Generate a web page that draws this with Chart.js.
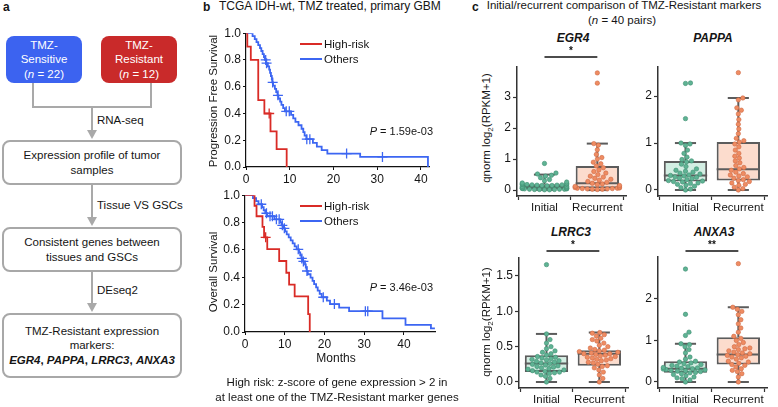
<!DOCTYPE html>
<html>
<head>
<meta charset="utf-8">
<title>TMZ-resistant markers</title>
<script src="https://cdn.jsdelivr.net/npm/chart.js@4.4.1/dist/chart.umd.min.js"></script>
<style>
  body { margin:0; width:778px; height:407px; position:relative; overflow:hidden; background:#fff;
         font-family:"Liberation Sans", Arial, Helvetica, sans-serif; color:#151515; font-size:11.5px; }
  .t { position:absolute; white-space:nowrap; line-height:14px; }
  .c { transform:translateX(-50%); }
  .r { transform:translateX(-100%); }
  .rot { position:absolute; white-space:nowrap; line-height:14px; transform:translate(-50%,-50%) rotate(-90deg); }
  .lbl { position:absolute; font-weight:bold; font-size:12px; line-height:14px; }
  canvas { position:absolute; }
  .box { position:absolute; box-sizing:border-box; border-radius:8px; display:flex; justify-content:center;
         align-items:center; text-align:center; line-height:14.5px; }
  .grey { border:2px solid #a8a8a8; background:#fff; }
  .gene { position:absolute; white-space:nowrap; line-height:14px; font-weight:bold; font-style:italic; font-size:12px; transform:translateX(-50%); }
  .leg { position:absolute; height:2px; width:22px; }
</style>
</head>
<body>

<!-- panel a : workflow -->
<div class="lbl" style="left:3px;top:0px">a</div>
<svg style="position:absolute;left:0;top:0" width="200" height="407">
  <g stroke="#a9a9a9" stroke-width="2" fill="none">
    <polyline points="33,83 33,107 151,107 151,83"/>
    <line x1="92" y1="107" x2="92" y2="131"/>
    <line x1="92" y1="185" x2="92" y2="218"/>
    <line x1="92" y1="272" x2="92" y2="304"/>
  </g>
  <g fill="#a9a9a9">
    <polygon points="87,130 97,130 92,139"/>
    <polygon points="87,217 97,217 92,226"/>
    <polygon points="87,303 97,303 92,312"/>
  </g>
</svg>
<div class="box" style="left:6px;top:36px;width:76px;height:47px;background:#3c63f0;color:#fff"><div>TMZ-<br>Sensitive<br>(<i>n</i> = 22)</div></div>
<div class="box" style="left:101px;top:36px;width:76px;height:47px;background:#c92a2a;color:#fff"><div>TMZ-<br>Resistant<br>(<i>n</i> = 12)</div></div>
<div class="t" style="left:97px;top:113px">RNA-seq</div>
<div class="box grey" style="left:2px;top:140px;width:180px;height:45px"><div>Expression profile of tumor<br>samples</div></div>
<div class="t" style="left:97px;top:198px">Tissue VS GSCs</div>
<div class="box grey" style="left:2px;top:227px;width:180px;height:45px"><div>Consistent genes between<br>tissues and GSCs</div></div>
<div class="t" style="left:97px;top:283px">DEseq2</div>
<div class="box grey" style="left:2px;top:313px;width:180px;height:65px"><div>TMZ-Resistant expression<br>markers:<br><b><i>EGR4</i>, <i>PAPPA</i>, <i>LRRC3</i>, <i>ANXA3</i></b></div></div>

<!-- panel b : survival -->
<div class="lbl" style="left:203px;top:0px">b</div>
<div class="t" style="left:219px;top:-1px;font-size:12px">TCGA IDH-wt, TMZ treated, primary GBM</div>
<canvas id="pfs" width="230" height="163" style="left:206px;top:24px"></canvas>
<canvas id="os" width="237" height="166" style="left:205px;top:186px"></canvas>
<div class="rot" style="left:213px;top:101px">Progression Free Survival</div>
<div class="rot" style="left:213px;top:272px">Overall Survival</div>
<div class="leg" style="left:300px;top:43px;background:#d92b26"></div>
<div class="t" style="left:324px;top:37px">High-risk</div>
<div class="leg" style="left:300px;top:58px;background:#3c66f2"></div>
<div class="t" style="left:324px;top:52px">Others</div>
<div class="leg" style="left:300px;top:205px;background:#d92b26"></div>
<div class="t" style="left:324px;top:199px">High-risk</div>
<div class="leg" style="left:300px;top:220px;background:#3c66f2"></div>
<div class="t" style="left:324px;top:214px">Others</div>
<div class="t r" style="left:433px;top:124px;font-size:11px"><i>P</i> = 1.59e-03</div>
<div class="t r" style="left:433px;top:280px;font-size:11px"><i>P</i> = 3.46e-03</div>
<div class="t c" style="left:336px;top:351px;font-size:12px">Months</div>
<div class="t c" style="left:337px;top:375px">High risk: z-score of gene expression &gt; 2 in</div>
<div class="t c" style="left:337px;top:390px">at least one of the TMZ-Resistant marker genes</div>

<!-- panel c : paired comparison -->
<div class="lbl" style="left:472px;top:0px">c</div>
<div class="t c" style="left:624px;top:-2px">Initial/recurrent comparison of TMZ-Resistant markers</div>
<div class="t c" style="left:622px;top:13px">(<i>n</i> = 40 pairs)</div>
<div class="gene" style="left:573px;top:31px">EGR4</div>
<div class="gene" style="left:713px;top:31px">PAPPA</div>
<div class="gene" style="left:571px;top:225px">LRRC3</div>
<div class="gene" style="left:714px;top:225px">ANXA3</div>
<div class="rot" style="left:486px;top:128px">qnorm log<sub style="font-size:8px;line-height:0">2</sub>(RPKM+1)</div>
<div class="rot" style="left:486px;top:322px">qnorm log<sub style="font-size:8px;line-height:0">2</sub>(RPKM+1)</div>
<canvas id="egr4" width="148" height="177" style="left:483px;top:37px"></canvas>
<canvas id="pappa" width="148" height="177" style="left:624px;top:37px"></canvas>
<canvas id="lrrc3" width="148" height="178" style="left:485px;top:228px"></canvas>
<canvas id="anxa3" width="148" height="179" style="left:624px;top:227px"></canvas>

<script>
// ---------- data: survival curves, [months, survival] at each step ----------
const pfsHighRisk = [[0,1],[0.3,0.9],[1.1,0.8],[2.8,0.5],[4.2,0.4],[5.6,0.267],[7.0,0.133],[9.3,0]];
const pfsHighRiskCensor = [[5.3,0.4]];
const pfsOthers = [[0,1],[1.5,0.978],[2.0,0.956],[2.4,0.933],[2.8,0.911],[3.2,0.889],[3.5,0.867],[3.8,0.844],
  [4.1,0.822],[4.3,0.8],[4.6,0.776],[5.0,0.752],[5.3,0.728],[5.5,0.704],[5.7,0.68],[5.9,0.656],[6.0,0.632],
  [6.2,0.608],[6.6,0.584],[6.9,0.56],[7.2,0.536],[7.4,0.512],[7.8,0.488],[8.1,0.464],[8.5,0.44],[8.9,0.416],
  [10.3,0.39],[10.8,0.364],[11.3,0.338],[12.0,0.312],[12.7,0.286],[13.1,0.26],[13.4,0.234],[13.8,0.208],
  [15.3,0.18],[16.2,0.153],[17.3,0.126],[18.6,0.1],[26.1,0.075],[41.6,0.075],[41.6,0]];
const pfsOthersCensor = [[4.5,0.8],[4.7,0.776],[6.1,0.632],[7.3,0.536],[9.2,0.416],[9.9,0.416],
  [13.9,0.208],[14.6,0.208],[23.0,0.1],[31.2,0.075]];

const osHighRisk = [[0,1],[2.4,0.923],[2.9,0.846],[4.4,0.769],[4.8,0.692],[5.6,0.606],[8.6,0.519],
  [10.4,0.433],[11.1,0.346],[12.5,0.26],[15.9,0.13],[16.3,0]];
const osHighRiskCensor = [[5.2,0.692]];
const osOthers = [[0,1],[2.0,0.978],[2.8,0.956],[3.4,0.934],[4.3,0.912],[4.7,0.89],[5.1,0.868],[5.6,0.846],
  [7.4,0.824],[8.9,0.802],[9.2,0.78],[9.6,0.758],[10.1,0.736],[10.5,0.714],[11.0,0.692],[11.5,0.67],
  [12.0,0.648],[12.5,0.626],[13.0,0.604],[13.6,0.582],[13.9,0.56],[14.2,0.538],[14.4,0.516],[15.1,0.494],
  [15.3,0.47],[15.5,0.446],[15.8,0.422],[16.5,0.398],[17.0,0.374],[17.4,0.35],[17.9,0.326],[18.3,0.302],
  [18.8,0.278],[19.3,0.254],[20.6,0.229],[21.4,0.204],[23.7,0.178],[26.2,0.152],[34.6,0.1],[40.4,0.052],
  [46.8,0.026],[47.8,0.026]];
const osOthersCensor = [[4.1,0.934],[5.4,0.868],[6.3,0.846],[6.9,0.846],[7.9,0.824],[8.6,0.824],[9.4,0.78],
  [9.9,0.758],[13.4,0.604],[14.3,0.538],[14.7,0.516],[15.6,0.446],[19.7,0.254],[22.5,0.204],[30.3,0.152],[30.9,0.152]];

const kmYTicks = [0, 0.2, 0.4, 0.6, 0.8, 1.0];
const pfsXTicks = [0, 10, 20, 30, 40];
const osXTicks = [0, 10, 20, 30, 40];

// ---------- data: marker expression, 40 paired samples ----------
const groups = ['Initial', 'Recurrent'];

const egr4Initial = [0.01,0.01,0.02,0.02,0.02,0.03,0.03,0.03,0.04,0.04,0.05,0.05,0.06,0.07,0.08,0.1,0.12,0.13,0.14,0.15,
  0.15,0.16,0.16,0.17,0.17,0.18,0.18,0.19,0.2,0.21,0.23,0.26,0.3,0.34,0.4,0.45,0.48,0.52,0.55,0.86];
const egr4Recurrent = [0.02,0.03,0.03,0.04,0.04,0.05,0.05,0.06,0.06,0.07,0.08,0.1,0.12,0.15,0.18,0.2,0.22,0.25,0.28,0.32,
  0.35,0.38,0.42,0.45,0.5,0.55,0.6,0.65,0.72,0.78,0.85,0.9,1.0,1.05,1.15,1.3,1.45,1.5,3.45,3.78];
const pappaInitial = [0.0,0.02,0.05,0.08,0.1,0.12,0.14,0.15,0.17,0.18,0.19,0.2,0.22,0.24,0.25,0.27,0.28,0.3,0.31,0.32,
  0.34,0.36,0.38,0.4,0.42,0.45,0.5,0.55,0.6,0.62,0.65,0.7,0.78,0.85,0.95,0.98,1.0,1.52,2.27,2.28];
const pappaRecurrent = [0.0,0.03,0.06,0.1,0.12,0.15,0.18,0.2,0.22,0.25,0.28,0.3,0.32,0.35,0.38,0.42,0.45,0.48,0.52,0.58,
  0.62,0.68,0.72,0.78,0.85,0.92,0.98,1.02,1.05,1.1,1.2,1.3,1.4,1.5,1.62,1.7,1.75,1.92,1.96,2.5];
const lrrc3Initial = [0.0,0.05,0.08,0.1,0.12,0.13,0.14,0.14,0.15,0.16,0.17,0.18,0.19,0.2,0.21,0.22,0.23,0.24,0.25,0.26,
  0.27,0.28,0.29,0.3,0.31,0.32,0.33,0.34,0.35,0.36,0.38,0.4,0.42,0.44,0.47,0.5,0.55,0.6,0.68,1.66];
const lrrc3Recurrent = [0.0,0.05,0.1,0.14,0.17,0.2,0.22,0.23,0.25,0.27,0.28,0.3,0.31,0.32,0.33,0.34,0.35,0.36,0.37,0.38,
  0.39,0.4,0.4,0.41,0.42,0.43,0.44,0.45,0.46,0.48,0.5,0.52,0.55,0.58,0.6,0.62,0.65,0.67,0.69,0.7];
const anxa3Initial = [0.0,0.05,0.08,0.1,0.12,0.15,0.18,0.2,0.22,0.23,0.25,0.26,0.27,0.28,0.29,0.3,0.31,0.32,0.33,0.34,
  0.35,0.37,0.38,0.4,0.42,0.44,0.46,0.48,0.5,0.55,0.6,0.7,0.78,0.85,0.9,0.92,1.12,1.2,1.63,2.72];
const anxa3Recurrent = [0.0,0.12,0.2,0.25,0.28,0.32,0.36,0.4,0.42,0.45,0.48,0.5,0.55,0.58,0.6,0.62,0.64,0.66,0.68,0.7,
  0.72,0.75,0.78,0.8,0.82,0.85,0.9,0.95,1.0,1.05,1.1,1.2,1.3,1.4,1.5,1.62,1.7,1.75,1.8,2.85];

// box stats per group: [whisker low, q1, median, q3, whisker high]
const egr4Box = [[0.01,0.03,0.1,0.19,0.5],[0.0,0.06,0.22,0.78,1.5]];
const pappaBox = [[0.0,0.18,0.31,0.62,1.0],[0.0,0.2,0.44,1.02,1.96]];
const lrrc3Box = [[0.0,0.14,0.26,0.38,0.68],[0.0,0.23,0.4,0.45,0.7]];
const anxa3Box = [[0.0,0.22,0.32,0.5,0.92],[0.0,0.42,0.66,1.08,1.8]];

const egr4Ticks = [0, 1, 2, 3];
const pappaTicks = [0, 1, 2];
const lrrc3Ticks = [0, 0.5, 1.0, 1.5];
const anxa3Ticks = [0, 1, 2];

// ---------- styling ----------
const RED = '#d92b26', BLUE = '#3c66f2';
const TEAL = '#5fb394', TEAL_EDGE = '#3f8f72', TEAL_FILL = '#d3eee3';
const ORANGE = '#ef8c62', ORANGE_EDGE = '#cf6a44', ORANGE_FILL = '#fcdccd';
const EDGE = '#5c5c5c', AXIS = '#333';

Chart.defaults.font.family = '"Liberation Sans", Arial, Helvetica, sans-serif';
Chart.defaults.font.size = 12;
Chart.defaults.color = '#151515';

const xy = arr => arr.map(([x, y]) => ({x, y}));
const fixedTicks = list => scale => { scale.ticks = list.map(v => ({value: v})); };

function kmChart(id, high, highCensor, others, othersCensor, xMax, xTicks) {
  const line = (d, c) => ({type: 'line', data: xy(d), borderColor: c, borderWidth: 1.8, stepped: true,
    pointRadius: 0, fill: false, order: 2});
  const marks = (d, c) => ({type: 'scatter', data: xy(d), borderColor: c, backgroundColor: c,
    pointStyle: 'cross', pointRadius: 5, borderWidth: 1.3, order: 1});
  return new Chart(document.getElementById(id), {
    type: 'line',
    data: {datasets: [line(high, RED), line(others, BLUE), marks(highCensor, RED), marks(othersCensor, BLUE)]},
    options: {
      responsive: false, animation: false, events: [],
      layout: {padding: {top: 8, right: 4, left: 0, bottom: 0}},
      plugins: {legend: {display: false}, tooltip: {enabled: false}},
      scales: {
        x: {type: 'linear', min: 0, max: xMax, afterBuildTicks: fixedTicks(xTicks), afterFit: s => { s.height = 20; },
            grid: {drawOnChartArea: false, tickLength: 3, tickColor: '#111'},
            border: {color: '#111', width: 1.2},
            ticks: {padding: 2, maxRotation: 0, autoSkip: false, callback: v => String(v)}},
        y: {type: 'linear', min: 0, max: 1, afterBuildTicks: fixedTicks(kmYTicks), afterFit: s => { s.width = 40; },
            grid: {drawOnChartArea: false, tickLength: 3, tickColor: '#111'},
            border: {color: '#111', width: 1.2},
            ticks: {padding: 2, autoSkip: false, callback: v => v.toFixed(1)}}
      }
    }
  });
}

// whiskers, median line and significance bracket, drawn with the chart scales
const boxParts = {
  id: 'boxParts',
  afterDatasetDraw(chart, args, opts) {
    if (args.index !== 0) return;
    const {ctx} = chart, x = chart.scales.x, y = chart.scales.y;
    const unit = x.getPixelForValue(1) - x.getPixelForValue(0);
    const seg = (x1, y1, x2, y2) => { ctx.beginPath(); ctx.moveTo(x1, y1); ctx.lineTo(x2, y2); ctx.stroke(); };
    ctx.save();
    ctx.strokeStyle = EDGE; ctx.lineWidth = 2;
    opts.stats.forEach((s, i) => {
      const cx = x.getPixelForValue(i), half = unit * 0.41, cap = unit * 0.2;
      const [lo, q1, med, q3, hi] = s.map(v => y.getPixelForValue(v));
      seg(cx, lo, cx, q1);
      seg(cx, q3, cx, hi);
      seg(cx - cap, lo, cx + cap, lo);
      seg(cx - cap, hi, cx + cap, hi);
      seg(cx - half, med, cx + half, med);
    });
    ctx.restore();
  },
  afterDraw(chart, args, opts) {
    if (!opts.sig) return;
    const {ctx} = chart, x = chart.scales.x;
    const yb = chart.chartArea.top - opts.gap;
    ctx.save();
    ctx.strokeStyle = '#111'; ctx.lineWidth = 1.6;
    ctx.beginPath(); ctx.moveTo(x.getPixelForValue(0), yb); ctx.lineTo(x.getPixelForValue(1), yb); ctx.stroke();
    ctx.fillStyle = '#111'; ctx.font = 'bold 10px "Liberation Sans", Arial, sans-serif';
    ctx.textAlign = 'center'; ctx.textBaseline = 'bottom';
    ctx.fillText(opts.sig, x.getPixelForValue(0.5), yb - 1);
    ctx.restore();
  }
};

// beeswarm offsets, worked out in pixels then mapped back to x units
function swarm(chart) {
  const xs = chart.scales.x, ys = chart.scales.y;
  const unit = xs.getPixelForValue(1) - xs.getPixelForValue(0);
  const d = 4.7, gutter = unit * 0.42;
  chart.data.datasets.forEach(ds => {
    if (ds.type !== 'scatter') return;
    const items = ds.data.map(p => ({v: p.y, py: ys.getPixelForValue(p.y)}));
    items.sort((a, b) => b.py - a.py);
    const placed = [];
    items.forEach(it => {
      let off = null;
      for (let k = 0; k < 400; k++) {
        const cand = (k % 2 ? 1 : -1) * Math.ceil(k / 2) * 0.5;
        if (Math.abs(cand) > gutter) break;
        if (placed.every(q => (q.x - cand) ** 2 + (q.y - it.py) ** 2 >= d * d)) { off = cand; break; }
      }
      if (off === null) off = (placed.length % 2 ? 1 : -1) * gutter;
      placed.push({x: off, y: it.py});
      it.x = ds.group + off / unit;
    });
    ds.data = items.map(it => ({x: it.x, y: it.v}));
  });
  chart.update('none');
}

function boxChart(id, initial, recurrent, stats, yMin, yMax, yTicks, fmt, sig, gap) {
  const pts = (vals, g, fill, edge) => ({type: 'scatter', group: g, data: vals.map(v => ({x: g, y: v})),
    backgroundColor: fill, borderColor: edge, borderWidth: 0.6, pointRadius: 2.2, order: 1});
  const chart = new Chart(document.getElementById(id), {
    type: 'bar',
    data: {datasets: [
      {type: 'bar', data: stats.map((s, i) => ({x: i, y: [s[1], s[3]]})), backgroundColor: [TEAL_FILL, ORANGE_FILL],
       borderColor: EDGE, borderWidth: 2, borderSkipped: false, barPercentage: 1, categoryPercentage: 0.82, order: 2},
      pts(initial, 0, TEAL, TEAL_EDGE),
      pts(recurrent, 1, ORANGE, ORANGE_EDGE)
    ]},
    options: {
      responsive: false, animation: false, events: [],
      layout: {padding: {top: 30, right: 2, left: 0, bottom: 0}},
      plugins: {legend: {display: false}, tooltip: {enabled: false}, boxParts: {stats, sig, gap}},
      scales: {
        x: {type: 'linear', min: -0.52, max: 1.55, offset: false, afterBuildTicks: fixedTicks([0, 1]),
            afterFit: s => { s.height = 18; },
            grid: {drawOnChartArea: false, tickLength: 4, tickColor: AXIS, tickWidth: 1.2},
            border: {color: AXIS, width: 1.5},
            ticks: {padding: 1, autoSkip: false, maxRotation: 0, font: {size: 11.5}, callback: v => groups[v]}},
        y: {type: 'linear', min: yMin, max: yMax, afterBuildTicks: fixedTicks(yTicks), afterFit: s => { s.width = 34; },
            grid: {drawOnChartArea: false, tickLength: 4, tickColor: AXIS, tickWidth: 1.2},
            border: {color: AXIS, width: 1.5},
            ticks: {padding: 2, autoSkip: false, callback: fmt}}
      }
    },
    plugins: [boxParts]
  });
  swarm(chart);
  return chart;
}

kmChart('pfs', pfsHighRisk, pfsHighRiskCensor, pfsOthers, pfsOthersCensor, 42, pfsXTicks);
kmChart('os', osHighRisk, osHighRiskCensor, osOthers, osOthersCensor, 48, osXTicks);

const plain = v => String(v);
const oneDec = v => v.toFixed(1);
boxChart('egr4', egr4Initial, egr4Recurrent, egr4Box, -0.19, 3.97, egr4Ticks, plain, '*', 10);
boxChart('pappa', pappaInitial, pappaRecurrent, pappaBox, -0.128, 2.62, pappaTicks, plain, null, 0);
boxChart('lrrc3', lrrc3Initial, lrrc3Recurrent, lrrc3Box, -0.085, 1.754, lrrc3Ticks, oneDec, '*', 7);
boxChart('anxa3', anxa3Initial, anxa3Recurrent, anxa3Box, -0.145, 3.01, anxa3Ticks, plain, '**', 6);
</script>
</body>
</html>
